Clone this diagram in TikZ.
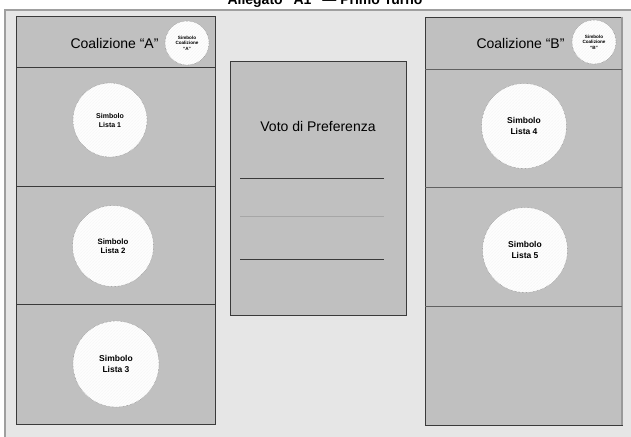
\documentclass[tikz,border=0pt]{standalone}
\usepackage{fontspec}
\setmainfont{Liberation Sans}
\usetikzlibrary{patterns}
\definecolor{fondo}{HTML}{E6E6E6}
\definecolor{scheda}{HTML}{C0C0C0}
\definecolor{bordo}{HTML}{3A3A3A}
\tikzset{
  riquadro/.style={draw=bordo, fill=scheda, line width=0.9pt},
  simbolo/.style={circle, draw=gray!80!black, densely dotted, fill=white, inner sep=0pt, align=center,
    postaction={pattern=north east lines, pattern color=gray!30},
    font=\bfseries\fontsize{8.5}{10.5}\selectfont},
  piccolo/.style={simbolo, minimum size=44, font=\bfseries\fontsize{4.6}{5.6}\selectfont},
  etichetta/.style={font=\fontsize{14}{16}\selectfont},
}
\begin{document}
\begin{tikzpicture}[x=1pt,y=-1pt]
\useasboundingbox (0,0) rectangle (631,436);
\draw[fill=fondo, draw=gray!75, line width=2pt] (5,10) rectangle (645,450);
\node[anchor=base, font=\bfseries\fontsize{14}{16}\selectfont] (titolo) at (325,5) {Allegato “A1” --- Primo Turno};

\draw[riquadro] (16,16) rectangle (215,424);
\draw[bordo, line width=0.8pt] (16,67) -- (215,67) (16,186) -- (215,186) (16,304) -- (215,304);
\node[etichetta, anchor=east] (coalA) at (162,43) {Coalizione “A”};
\node[piccolo] (simbA) at (187,43) {Simbolo\\Coalizione\\“A”};
\node[simbolo, minimum size=74, font=\bfseries\fontsize{7}{9}\selectfont] (lista1) at (110,120) {Simbolo\\Lista 1};
\node[simbolo, minimum size=81, font=\bfseries\fontsize{7.8}{9.5}\selectfont] (lista2) at (113,246) {Simbolo\\Lista 2};
\node[simbolo, minimum size=86] (lista3) at (116,364) {Simbolo\\Lista 3};

\draw[riquadro] (230,61) rectangle (406,315);
\node[etichetta] (voto) at (318,126) {Voto di Preferenza};
\draw[bordo] (240,178) -- (384,178);
\draw[gray!70] (240,216) -- (384,216);
\draw[bordo] (240,259) -- (384,259);

\draw[riquadro] (425,17) rectangle (622,425);
\draw[gray!80, line width=1.2pt] (622,17) -- (622,425);
\draw[bordo!80, line width=0.8pt] (425,69) -- (622,69) (425,187) -- (622,187) (425,306) -- (622,306);
\node[etichetta, anchor=east] (coalB) at (568,43) {Coalizione “B”};
\node[piccolo] (simbB) at (594,42) {Simbolo\\Coalizione\\“B”};
\node[simbolo, minimum size=85] (lista4) at (524,126) {Simbolo\\Lista 4};
\node[simbolo, minimum size=85] (lista5) at (525,250) {Simbolo\\Lista 5};
\end{tikzpicture}
\end{document}
